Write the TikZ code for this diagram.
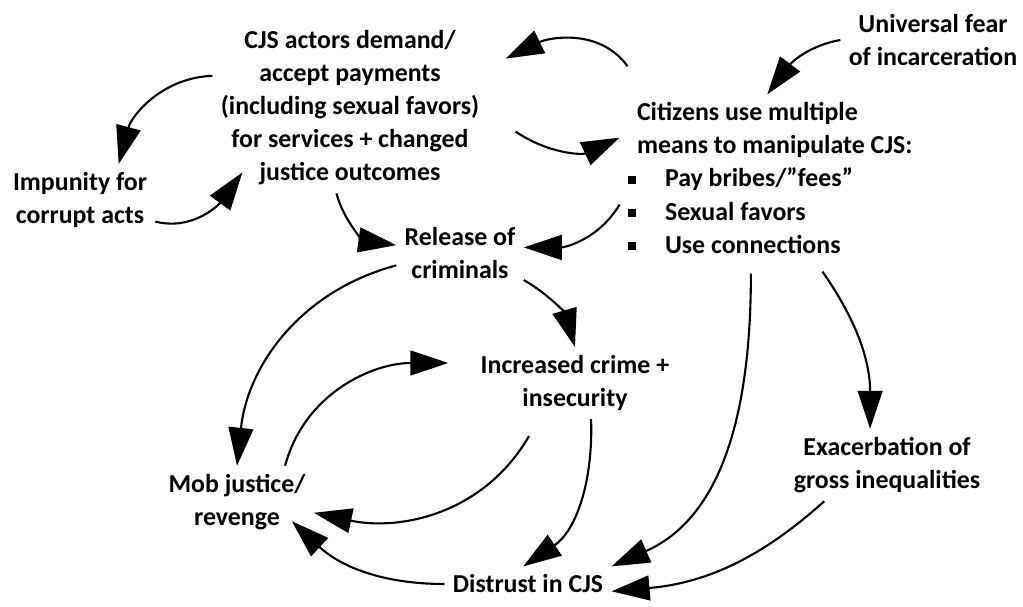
\documentclass[tikz,border=0pt]{standalone}
\usepackage{fontspec}
\setmainfont{Carlito}
\usetikzlibrary{arrows.meta}
\tikzset{
  lbl/.style={
    font=\fontsize{18.4}{23.5}\selectfont\bfseries,
    align=center,
    inner sep=2pt,
    outer sep=4pt
  },
  link/.style={-{Triangle[length=0.95cm,width=0.62cm]}, line width=1.5pt}
}
\newcommand{\sqitem}{\raisebox{2.1pt}{\rule{5.7pt}{5.7pt}}\hspace{20.6pt}}

\begin{document}
\begin{tikzpicture}
  \useasboundingbox (0,0) rectangle (25.575,15.15);

  \node[lbl] (cjs) at (8.75,12.46) {CJS actors demand/\\accept payments\\(including sexual favors)\\for services + changed\\justice outcomes};
  \node[lbl] (imp) at (2.0,10.15) {Impunity for\\corrupt acts};
  \node[lbl] (rel) at (11.5,8.825) {Release of\\criminals};
  \node[lbl] (fear) at (23.325,14.15) {Universal fear\\of incarceration};
  \node[lbl, align=left, anchor=west] (cit) at (15.49,10.7) {\hspace*{6.4pt}Citizens use multiple\\\hspace*{6.4pt}means to manipulate CJS:\\\sqitem Pay bribes/”fees”\\\sqitem Sexual favors\\\sqitem Use connections};
  \node[lbl] (inc) at (14.375,5.575) {Increased crime +\\insecurity};
  \node[lbl] (mob) at (5.925,2.6) {Mob justice/\\revenge};
  \node[lbl] (exa) at (22.175,3.525) {Exacerbation of\\gross inequalities};
  \node[lbl] (dis) at (13.2,0.55) {Distrust in CJS};

  % corruption loop
  \draw[link] (cjs.167) to[out=182,in=75] (imp.43);
  \draw[link] (imp.-16) to[out=-14,in=234] ([xshift=0.75cm,yshift=0.525cm]cjs.south west);
  \draw[link] (cjs.261) to[out=-75,in=172] (rel.173);

  % citizens and CJS actors
  \draw[link] ([xshift=0.2cm,yshift=0.7cm]cit.north west) to[out=126,in=26] ([xshift=0.45cm,yshift=1.225cm]cjs.east);
  \draw[link] ([xshift=0.7cm,yshift=-0.6cm]cjs.east) to[out=-34,in=205] (cit.165);
  \draw[link] (fear.west) to[out=190,in=53] (cit.92);
  \draw[link] (cit.190) to[out=239,in=0] (rel.5);

  % consequences
  \draw[link] (rel.-23) to[out=-30,in=106] (inc.north);
  \draw[link] (rel.191) to[out=195,in=84] (mob.north);
  \draw[link] (mob.37) to[out=75,in=180] ([xshift=-0.6cm,yshift=0.5cm]inc.west);
  \draw[link] ([xshift=-1.15cm,yshift=-0.425cm]inc.south) to[out=240,in=-12] (mob.-8);
  \draw[link] (inc.-66) to[out=-88,in=34] (dis.105);
  \draw[link] ([yshift=-0.3cm]cit.257) to[out=-90,in=24] (dis.north east);
  \draw[link] ([yshift=-0.25cm]cit.-58) to[out=-55,in=90] (exa.115);
  \draw[link] (exa.210) to[out=222,in=5] (dis.-5);
  \draw[link] (dis.west) to[out=180,in=-43] ([xshift=-0.55cm,yshift=0.425cm]mob.south east);
\end{tikzpicture}
\end{document}
